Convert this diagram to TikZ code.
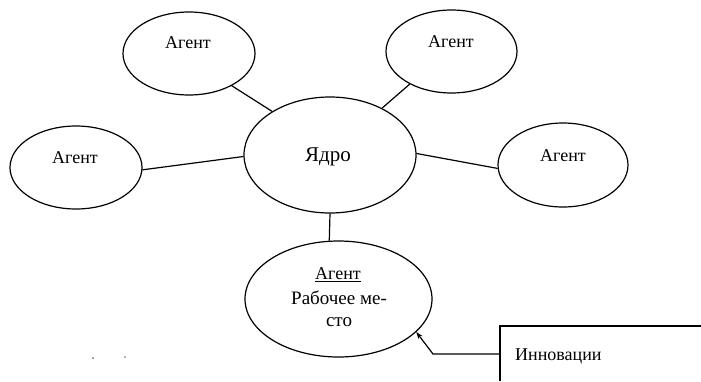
\documentclass[tikz,border=0pt]{standalone}
\usepackage{fontspec}
\setmainfont{Liberation Serif}
\usetikzlibrary{shapes.geometric,arrows.meta}
\begin{document}
\begin{tikzpicture}[x=1pt,y=-1pt,
  oval/.style={draw,ellipse,line width=1.2pt,inner sep=0pt},
  lbl/.style={inner sep=0pt,font=\fontsize{18}{21}\selectfont},
  conn/.style={line width=1.2pt},
  box/.style={line width=1.2pt}]
\useasboundingbox (0,0) rectangle (701,381);
% ellipses
\node[oval,minimum width=132pt,minimum height=83pt] (tl) at (189,53.5) {};
\node[oval,minimum width=131pt,minimum height=83pt] (tr) at (451.5,51.5) {};
\node[oval,minimum width=132pt,minimum height=83pt] (l) at (76,167.5) {};
\node[oval,minimum width=130pt,minimum height=84pt] (r) at (563,165) {};
\node[oval,minimum width=172pt,minimum height=116pt] (core) at (330,155) {};
\node[oval,minimum width=187pt,minimum height=116pt] (b) at (338.5,299) {};
% labels
\node[lbl] (tltext) at (188,43) {Агент};
\node[lbl] (trtext) at (451,42) {Агент};
\node[lbl] (ltext) at (75,158) {Агент};
\node[lbl] (rtext) at (563,156) {Агент};
\node[lbl,font=\fontsize{21}{25}\selectfont] (coretext) at (328,157) {Ядро};
\node[lbl] (btext1) at (338,275) {\underline{Агент}};
\node[lbl,font=\fontsize{19}{23}\selectfont] (btext2) at (339,298) {Рабочее ме-};
\node[lbl,font=\fontsize{19}{23}\selectfont] (btext3) at (339,322) {сто};
% connectors
\draw[conn] (tl.-37.5) -- (core.143.4);
\draw[conn] (tr.218.6) -- (core.42);
\draw[conn] (l.-2) -- (core.181);
\draw[conn] (core.1.4) -- (r.183.5);
\draw[conn] (core.south) -- (b.99.3);
% innovations box
\coordinate (boxtl) at (500,326);
\coordinate (boxtr) at (701,326);
\coordinate (boxbl) at (500,381);
\coordinate (junction) at (500,354);
\coordinate (bend) at (433,354);
\draw[box] (boxtr) -- (boxtl) -- (boxbl);
\node[lbl,anchor=west] (innov) at (515,356) {Инновации};
\draw[conn,-{Stealth[length=7pt,width=5pt]}] (junction) -- (bend) -- (b.-23.4);
% specks
\fill[black!60] (93,358) circle (1pt);
\fill[black!60] (125,357) circle (0.8pt);
\end{tikzpicture}
\end{document}
